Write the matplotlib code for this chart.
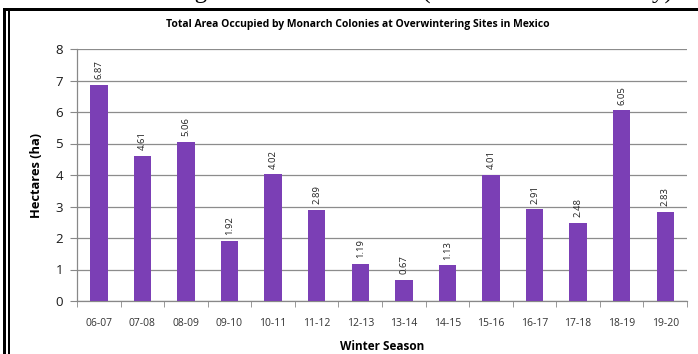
import matplotlib.pyplot as plt
from matplotlib.patches import Rectangle
import numpy as np

plt.rcParams['font.family'] = ['Open Sans', 'DejaVu Sans']

seasons = ['06-07', '07-08', '08-09', '09-10', '10-11', '11-12', '12-13',
           '13-14', '14-15', '15-16', '16-17', '17-18', '18-19', '19-20']
hectares = [6.87, 4.61, 5.06, 1.92, 4.02, 2.89, 1.19,
            0.67, 1.13, 4.01, 2.91, 2.48, 6.05, 2.83]
value_labels = ['6.87', '4.61', '5.06', '1.92', '4.02', '2.89', '1.19',
                '0.67', '1.13', '4.01', '2.91', '2.48', '6.05', '2.83']

W, H = 698, 354
fig = plt.figure(figsize=(W / 100, H / 100), dpi=100)
fig.patch.set_facecolor('white')

# page caption cut off above the box
fig.text(0.53, 1 + 1 / H, 'Overwintering Monarch Butterflies (Source: Xerces Society).',
         ha='center', va='baseline', fontsize=18, family='Liberation Serif')

# box borders (top thick line, left double line)
def px_rect(x, y, w, h):
    fig.add_artist(Rectangle((x / W, 1 - (y + h) / H), w / W, h / H,
                             transform=fig.transFigure, color='black', lw=0))

px_rect(3, 8, W - 3, 3)
px_rect(3, 8, 3, H - 8)
px_rect(8, 11, 1.5, H - 11)

ax = fig.add_axes([77 / W, 1 - 301 / H, 610 / W, 252 / H])
x = np.arange(len(seasons))
ax.bar(x, hectares, width=0.4, color='#7b3fb5', zorder=3)

for xi, v, lab in zip(x, hectares, value_labels):
    ax.text(xi, v + 0.18, lab, rotation=90, ha='center', va='bottom',
            fontsize=6.8, color='#222222')

ax.set_xlim(-0.5, len(seasons) - 0.5)
ax.set_ylim(0, 8)
ax.set_yticks(range(0, 9))
ax.set_xticks(x)
ax.set_xticklabels(seasons, fontsize=7.5, color='#333333')
ax.set_xticks(np.arange(-0.5, len(seasons), 1), minor=True)
ax.tick_params(axis='x', which='major', length=0, pad=12)
ax.tick_params(axis='x', which='minor', length=4, color='#888888', direction='out')
ax.tick_params(axis='y', length=5, color='#888888', labelsize=9.5, pad=5,
               labelcolor='#1a1a1a')
ax.grid(axis='y', color='#8c8c8c', lw=0.9, zorder=0)

for s in ['top', 'right']:
    ax.spines[s].set_visible(False)
for s in ['left', 'bottom']:
    ax.spines[s].set_color('#888888')
    ax.spines[s].set_linewidth(0.9)

ax.set_ylabel('Hectares (ha)', fontsize=9.3, fontweight='bold', labelpad=9)
ax.set_xlabel('Winter Season', fontsize=8.5, fontweight='bold', labelpad=8)

fig.text(358 / W, 1 - 24 / H,
         'Total Area Occupied by Monarch Colonies at Overwintering Sites in Mexico',
         ha='center', va='center', fontsize=7.5, fontweight='bold')

fig.savefig('out.png', dpi=100)
